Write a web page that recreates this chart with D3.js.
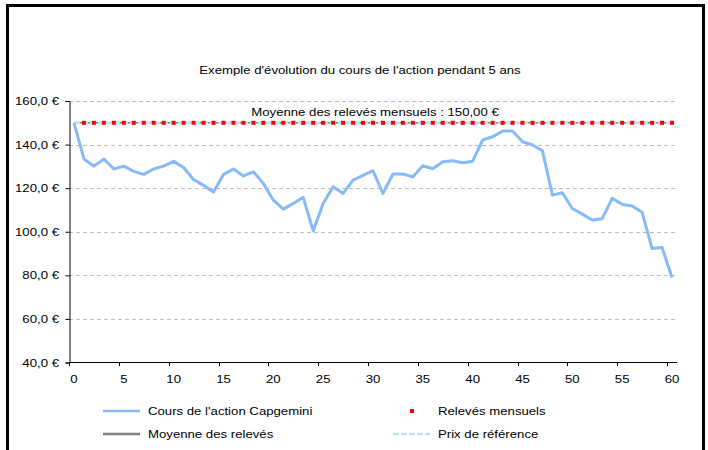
<!DOCTYPE html>
<html>
<head>
<meta charset="utf-8">
<script src="https://cdn.jsdelivr.net/npm/d3@7"></script>
<style>
  body { margin: 0; background: #fff; }
  svg { font-family: "Liberation Sans", Arial, sans-serif; }
</style>
</head>
<body>
<div id="chart"></div>
<script>
// months 0..60
var months = d3.range(0, 61);
// Cours de l'action Capgemini (EUR)
var cours = [150.0, 133.4, 130.1, 133.4, 128.8, 130.1, 127.7, 126.3, 128.8, 130.1,
             132.3, 129.5, 124.0, 121.3, 118.2, 126.3, 128.8, 125.6, 127.5, 122.2,
             114.5, 110.4, 113.0, 115.8, 100.4, 113.0, 120.6, 117.6, 123.7, 125.9,
             128.0, 117.6, 126.5, 126.5, 125.2, 130.3, 128.9, 132.1, 132.6, 131.7,
             132.4, 142.1, 143.6, 146.2, 146.2, 141.3, 139.8, 137.2, 116.8, 117.9,
             110.7, 108.1, 105.4, 106.0, 115.3, 112.6, 111.8, 108.9, 92.3, 92.8,
             79.0];
var releveMonths = d3.range(1, 61);
var releveValue = 150;
var moyenne = 150;
var prixReference = 150;
var yTicks = [40, 60, 80, 100, 120, 140, 160];
var xTickLabels = [0, 5, 10, 15, 20, 25, 30, 35, 40, 45, 50, 55, 60];

var W = 708, H = 450;
var SX = 1.2; // the original picture is stretched sideways
var svg = d3.select('#chart').append('svg')
  .attr('width', W)
  .attr('height', H);

// text helper, stretched horizontally like the source
function label(g, x0, y0, txt, size, anchor) {
  return g.append('text')
    .attr('transform', 'translate(' + x0 + ',' + y0 + ') scale(' + SX + ',1)')
    .attr('text-anchor', anchor || 'start')
    .attr('font-size', size || 11)
    .attr('fill', '#000')
    .text(txt);
}

// frame
svg.append('path')
  .attr('d', 'M7.5,455 L7.5,5.5 L703.5,5.5 L703.5,455')
  .attr('fill', 'none')
  .attr('stroke', '#000')
  .attr('stroke-width', 3);

var x = d3.scaleBand()
  .domain(months)
  .range([69, 677])
  .paddingInner(0)
  .paddingOuter(0);

var y = d3.scaleLinear()
  .domain([40, 160])
  .range([362.5, 101]);

var cx = function(m) { return x(m) + x.bandwidth() / 2; };

// title
label(svg, 360, 74, "Exemple d'évolution du cours de l'action pendant 5 ans", 11, 'middle');

// gridlines
svg.append('g').selectAll('line')
  .data(yTicks.slice(1))
  .enter().append('line')
  .attr('x1', 69).attr('x2', 677)
  .attr('y1', d => Math.round(y(d)) + 0.5)
  .attr('y2', d => Math.round(y(d)) + 0.5)
  .attr('stroke', '#bdbdbd')
  .attr('stroke-dasharray', '4,3');

// y axis
var yAxis = svg.append('g')
  .attr('transform', 'translate(69.5,0)')
  .call(d3.axisLeft(y).tickValues(yTicks).tickSize(4).tickFormat(''));
yAxis.select('.domain').attr('stroke', '#000');
yTicks.forEach(function(d) {
  label(svg, 59, y(d) + 4, d3.format('.1f')(d).replace('.', ',') + ' €', 11, 'end');
});

// x axis: ticks on band boundaries, labels at band centres
var xg = svg.append('g');
xg.append('line')
  .attr('x1', 69).attr('x2', 677)
  .attr('y1', 362.5).attr('y2', 362.5)
  .attr('stroke', '#000');
xg.selectAll('line.tick')
  .data(xTickLabels)
  .enter().append('line')
  .attr('class', 'tick')
  .attr('x1', d => Math.round(x(d)) + 0.5)
  .attr('x2', d => Math.round(x(d)) + 0.5)
  .attr('y1', 362).attr('y2', 366)
  .attr('stroke', '#000');
xTickLabels.forEach(function(d) {
  label(xg, cx(d), 383, d, 11, 'middle');
});

// Moyenne des relevés (grey)
svg.append('line')
  .attr('x1', cx(0)).attr('x2', cx(60))
  .attr('y1', y(moyenne)).attr('y2', y(moyenne))
  .attr('stroke', '#808080')
  .attr('stroke-width', 1.5);

// Prix de référence (light blue dashed)
svg.append('line')
  .attr('x1', cx(0)).attr('x2', cx(60))
  .attr('y1', y(prixReference)).attr('y2', y(prixReference))
  .attr('stroke', '#c5ddf7')
  .attr('stroke-width', 3)
  .attr('stroke-dasharray', '6,2');

// cours
var line = d3.line()
  .x((d, i) => cx(months[i]))
  .y(d => y(d));

svg.append('path')
  .datum(cours)
  .attr('d', line)
  .attr('fill', 'none')
  .attr('stroke', '#86baf9')
  .attr('stroke-width', 3)
  .attr('stroke-linejoin', 'round');

// Relevés mensuels (red squares)
svg.append('g').selectAll('rect')
  .data(releveMonths)
  .enter().append('rect')
  .attr('x', d => cx(d) - 2)
  .attr('y', y(releveValue) - 2)
  .attr('width', 4)
  .attr('height', 4)
  .attr('fill', '#ff0000');

// annotation
label(svg, 375, 116, 'Moyenne des relevés mensuels : 150,00 €', 11, 'middle');

// legend
var legend = [
  {label: "Cours de l'action Capgemini", x: 103, y: 411, type: 'line', color: '#86baf9', dash: null},
  {label: 'Relevés mensuels', x: 393, y: 411, type: 'marker', color: '#ff0000', dash: null},
  {label: 'Moyenne des relevés', x: 103, y: 434, type: 'line', color: '#808080', dash: null},
  {label: 'Prix de référence', x: 393, y: 434, type: 'line', color: '#c5ddf7', dash: '6,2'}
];
var lg = svg.append('g').selectAll('g')
  .data(legend)
  .enter().append('g')
  .attr('transform', d => 'translate(' + d.x + ',' + d.y + ')');
lg.filter(d => d.type === 'line').append('line')
  .attr('x1', 0).attr('x2', 37)
  .attr('y1', 0).attr('y2', 0)
  .attr('stroke', d => d.color)
  .attr('stroke-width', 2.5)
  .attr('stroke-dasharray', d => d.dash);
lg.filter(d => d.type === 'marker').append('rect')
  .attr('x', 17).attr('y', -2)
  .attr('width', 4).attr('height', 4)
  .attr('fill', d => d.color);
lg.each(function(d) {
  label(d3.select(this), 45, 4, d.label, 11, 'start');
});
</script>
</body>
</html>
